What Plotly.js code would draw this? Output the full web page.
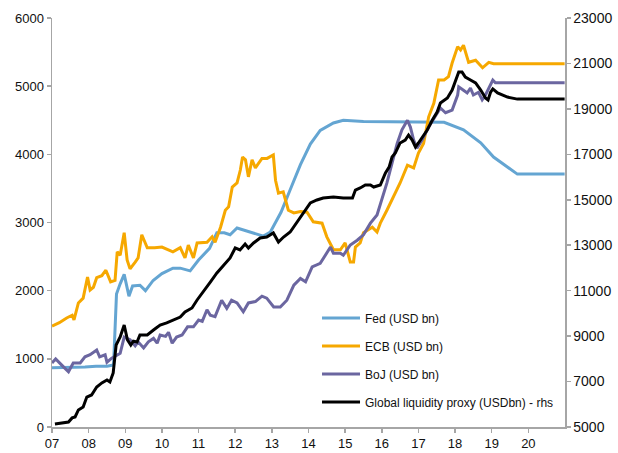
<!DOCTYPE html>
<html>
<head>
<meta charset="utf-8">
<script src="https://cdn.plot.ly/plotly-3.0.1.min.js"></script>
<style>html,body{margin:0;padding:0;background:#fff;}#chart{width:618px;height:453px;}</style>
</head>
<body>
<div id="chart"></div>
<script>
// Year tick labels
var yearVals = [2007,2008,2009,2010,2011,2012,2013,2014,2015,2016,2017,2018,2019,2020];
var yearLabels = ["07","08","09","10","11","12","13","14","15","16","17","18","19","20"];

// Fed (USD bn)
var fedX = [2007.0, 2007.3, 2007.6, 2007.9, 2008.2, 2008.5, 2008.68, 2008.76, 2008.86, 2008.97, 2009.1, 2009.2, 2009.4, 2009.55, 2009.76, 2010.0, 2010.3, 2010.5, 2010.77, 2011.0, 2011.3, 2011.5, 2011.7, 2011.86, 2012.05, 2012.4, 2012.77, 2012.96, 2013.25, 2013.5, 2013.78, 2014.05, 2014.32, 2014.68, 2014.95, 2015.5, 2016.0, 2016.5, 2017.0, 2017.7, 2018.23, 2018.7, 2019.05, 2019.43, 2019.7, 2020.99];
var fedY = [870, 870, 880, 880, 890, 890, 910, 1950, 2100, 2240, 1920, 2070, 2080, 2000, 2150, 2250, 2330, 2330, 2290, 2450, 2620, 2850, 2850, 2820, 2920, 2860, 2800, 2860, 3150, 3480, 3850, 4150, 4350, 4460, 4500, 4480, 4480, 4470, 4470, 4470, 4360, 4170, 3960, 3810, 3710, 3710];

// ECB (USD bn)
var ecbX = [2007.0, 2007.2, 2007.4, 2007.55, 2007.6, 2007.72, 2007.85, 2007.97, 2008.04, 2008.13, 2008.22, 2008.36, 2008.47, 2008.6, 2008.72, 2008.78, 2008.86, 2008.97, 2009.05, 2009.13, 2009.27, 2009.35, 2009.45, 2009.6, 2009.8, 2010.0, 2010.3, 2010.5, 2010.63, 2010.72, 2010.86, 2010.96, 2011.23, 2011.37, 2011.45, 2011.6, 2011.73, 2011.82, 2011.92, 2012.05, 2012.14, 2012.2, 2012.28, 2012.36, 2012.46, 2012.55, 2012.73, 2012.87, 2013.04, 2013.1, 2013.18, 2013.31, 2013.45, 2013.6, 2013.78, 2013.96, 2014.13, 2014.37, 2014.5, 2014.68, 2014.87, 2015.0, 2015.14, 2015.23, 2015.28, 2015.41, 2015.5, 2015.74, 2015.87, 2015.96, 2016.14, 2016.32, 2016.5, 2016.7, 2016.87, 2017.0, 2017.14, 2017.28, 2017.42, 2017.55, 2017.7, 2017.82, 2017.92, 2018.07, 2018.15, 2018.23, 2018.37, 2018.56, 2018.75, 2018.92, 2019.05, 2020.99];
var ecbY = [1480, 1530, 1600, 1640, 1570, 1820, 1890, 2200, 2010, 2050, 2190, 2220, 2300, 2130, 2150, 2570, 2520, 2850, 2450, 2320, 2420, 2480, 2820, 2630, 2630, 2640, 2570, 2630, 2480, 2670, 2480, 2700, 2710, 2790, 2710, 2930, 3180, 3230, 3520, 3580, 3770, 3960, 3920, 3670, 3920, 3800, 3940, 3940, 3990, 3620, 3430, 3450, 3180, 3140, 3160, 3150, 3010, 2990, 2790, 2600, 2600, 2700, 2420, 2420, 2640, 2700, 2850, 2930, 2860, 2990, 3180, 3370, 3580, 3840, 3800, 4020, 4160, 4550, 4750, 5090, 5090, 5140, 5340, 5580, 5530, 5600, 5350, 5380, 5270, 5350, 5330, 5330];

// BoJ (USD bn)
var bojX = [2007.0, 2007.1, 2007.3, 2007.45, 2007.58, 2007.77, 2007.9, 2008.04, 2008.22, 2008.3, 2008.45, 2008.5, 2008.63, 2008.77, 2008.86, 2008.97, 2009.13, 2009.27, 2009.35, 2009.5, 2009.63, 2009.77, 2009.87, 2009.95, 2010.1, 2010.18, 2010.28, 2010.4, 2010.55, 2010.7, 2010.86, 2011.0, 2011.1, 2011.23, 2011.32, 2011.45, 2011.63, 2011.77, 2011.9, 2012.05, 2012.22, 2012.36, 2012.55, 2012.73, 2012.86, 2013.05, 2013.23, 2013.41, 2013.6, 2013.78, 2013.92, 2014.1, 2014.32, 2014.6, 2014.68, 2014.87, 2014.95, 2015.14, 2015.33, 2015.5, 2015.69, 2015.87, 2016.0, 2016.14, 2016.28, 2016.42, 2016.55, 2016.7, 2016.78, 2016.87, 2016.96, 2017.1, 2017.28, 2017.46, 2017.6, 2017.74, 2017.92, 2018.07, 2018.1, 2018.23, 2018.33, 2018.42, 2018.5, 2018.64, 2018.74, 2018.83, 2018.92, 2019.03, 2019.1, 2020.99];
var bojY = [940, 1000, 890, 810, 940, 940, 1030, 1060, 1130, 1030, 1060, 950, 1010, 1060, 1080, 1320, 1280, 1190, 1250, 1160, 1250, 1300, 1230, 1350, 1330, 1390, 1230, 1320, 1350, 1470, 1470, 1570, 1550, 1720, 1640, 1620, 1860, 1740, 1860, 1820, 1690, 1820, 1840, 1920, 1890, 1760, 1760, 1860, 2080, 2180, 2130, 2350, 2400, 2640, 2550, 2550, 2520, 2670, 2740, 2820, 2990, 3110, 3330, 3580, 3870, 4160, 4360, 4500, 4400, 4210, 4090, 4210, 4400, 4550, 4680, 4610, 4650, 4870, 4990, 4940, 4900, 4970, 4870, 4910, 4800, 4870, 4970, 5090, 5050, 5050];

// Global liquidity proxy (USDbn) - rhs
var glX = [2007.08, 2007.3, 2007.45, 2007.55, 2007.63, 2007.72, 2007.85, 2007.95, 2008.08, 2008.22, 2008.36, 2008.5, 2008.58, 2008.67, 2008.75, 2008.86, 2008.97, 2009.06, 2009.15, 2009.22, 2009.32, 2009.4, 2009.6, 2009.77, 2009.95, 2010.13, 2010.3, 2010.5, 2010.63, 2010.82, 2010.96, 2011.13, 2011.32, 2011.5, 2011.68, 2011.86, 2012.0, 2012.13, 2012.27, 2012.36, 2012.5, 2012.68, 2012.86, 2013.04, 2013.18, 2013.32, 2013.5, 2013.78, 2014.05, 2014.23, 2014.4, 2014.68, 2014.95, 2015.2, 2015.28, 2015.41, 2015.55, 2015.69, 2015.78, 2015.96, 2016.1, 2016.2, 2016.28, 2016.37, 2016.5, 2016.64, 2016.73, 2016.83, 2016.92, 2017.0, 2017.1, 2017.24, 2017.38, 2017.51, 2017.6, 2017.79, 2017.92, 2017.97, 2018.1, 2018.19, 2018.28, 2018.42, 2018.56, 2018.7, 2018.83, 2018.9, 2018.97, 2019.03, 2019.16, 2019.43, 2019.7, 2020.99];
var glY = [5130, 5180, 5220, 5400, 5440, 5750, 5880, 6320, 6410, 6760, 6940, 7070, 6980, 7380, 8610, 8960, 9490, 8830, 8610, 8780, 8740, 9050, 9050, 9270, 9490, 9580, 9710, 9840, 10060, 10240, 10590, 10940, 11380, 11780, 12130, 12440, 12880, 12790, 13050, 12880, 13100, 13320, 13360, 13540, 13140, 13360, 13580, 14250, 14860, 14990, 15080, 15120, 15080, 15080, 15430, 15520, 15650, 15650, 15560, 15650, 16180, 16440, 16880, 17060, 17500, 17630, 17850, 17630, 17320, 17500, 17760, 18070, 18510, 18860, 19260, 19480, 19830, 20050, 20620, 20620, 20400, 20270, 20140, 19830, 19480, 19390, 19740, 19880, 19700, 19520, 19430, 19430];

var narrow = '"Liberation Sans Narrow", "Arial Narrow", "Liberation Sans", Arial, sans-serif';
var axisGrey = '#a6a6a6';

var traces = [
  {x: fedX, y: fedY, name: 'Fed (USD bn)', type: 'scatter', mode: 'lines', legendgroup: 'a',
   line: {color: '#64a5d2', width: 3}},
  {x: ecbX, y: ecbY, name: 'ECB (USD bn)', type: 'scatter', mode: 'lines', legendgroup: 'b',
   line: {color: '#f6a800', width: 3}},
  {x: bojX, y: bojY, name: 'BoJ (USD bn)', type: 'scatter', mode: 'lines', legendgroup: 'c',
   line: {color: '#6b66a0', width: 3}},
  {x: glX, y: glY, name: 'Global liquidity proxy (USDbn) - rhs', type: 'scatter', mode: 'lines', legendgroup: 'd',
   yaxis: 'y2', line: {color: '#000000', width: 3}}
];

var layout = {
  width: 618, height: 453,
  margin: {l: 52, r: 53, t: 18, b: 26, pad: 0},
  paper_bgcolor: '#ffffff', plot_bgcolor: '#ffffff',
  showlegend: true,
  legend: {x: 0.5166, y: 0.302, xanchor: 'left', yanchor: 'top', traceorder: 'grouped',
           tracegroupgap: 9, itemwidth: 38, bgcolor: 'rgba(0,0,0,0)',
           font: {family: narrow, size: 12, color: '#111'}},
  xaxis: {range: [2007, 2021], tickmode: 'array', tickvals: yearVals, ticktext: yearLabels,
          showgrid: false, zeroline: false, showline: true, linecolor: axisGrey, linewidth: 1.5,
          ticks: 'outside', ticklen: 4, tickcolor: axisGrey, tickwidth: 1.5,
          tickfont: {family: narrow, size: 13, color: '#111'}},
  yaxis: {range: [0, 6000], dtick: 1000, tick0: 0, tickformat: 'd', showgrid: false, zeroline: false,
          showline: true, linecolor: axisGrey, linewidth: 1.5,
          ticks: 'outside', ticklen: 4, tickcolor: axisGrey, tickwidth: 1.5,
          tickfont: {family: narrow, size: 13, color: '#111'}},
  yaxis2: {range: [5000, 23000], dtick: 2000, tick0: 5000, tickformat: 'd', overlaying: 'y', side: 'right',
           showgrid: false, zeroline: false, showline: true, linecolor: axisGrey, linewidth: 1.5,
           ticks: 'outside', ticklen: 4, tickcolor: axisGrey, tickwidth: 1.5,
           tickfont: {family: '"Liberation Sans", Arial, sans-serif', size: 14, color: '#111'}},
  hovermode: false
};

Plotly.newPlot('chart', traces, layout, {displayModeBar: false, staticPlot: true});
</script>
</body>
</html>
